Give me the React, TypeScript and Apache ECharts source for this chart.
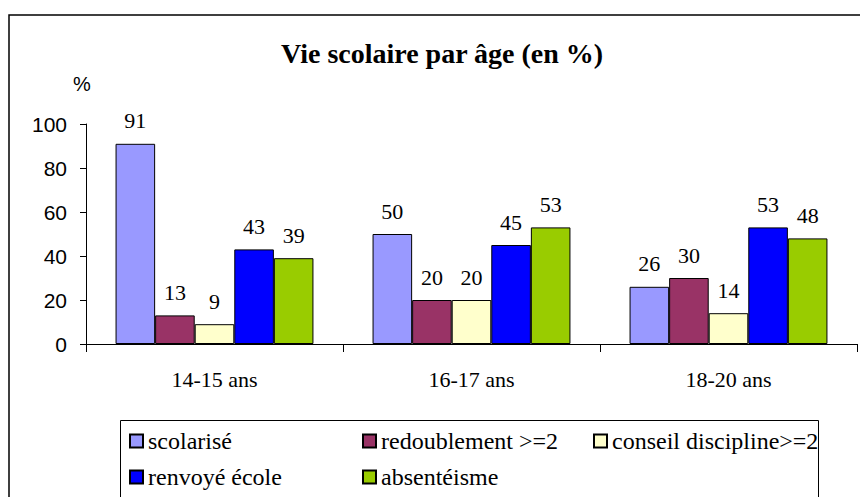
import React, { useEffect, useRef } from "react";
import * as echarts from "echarts";

const categories = ["14-15 ans", "16-17 ans", "18-20 ans"];
const seriesNames = ["scolarisé", "redoublement >=2", "conseil discipline>=2", "renvoyé école", "absentéisme"];
const scolarise = [91, 50, 26];
const redoublement = [13, 20, 30];
const conseil = [9, 20, 14];
const renvoye = [43, 45, 53];
const absenteisme = [39, 53, 48];
const colors = ["#9999FF", "#993366", "#FFFFCC", "#0000FF", "#99CC00"];
const yTicks = [0, 20, 40, 60, 80, 100];

const SERIF = "Times New Roman, Liberation Serif, serif";
const SANS = "Arial, Liberation Sans, sans-serif";

export default function App() {
  const ref = useRef<HTMLDivElement>(null);
  useEffect(() => {
    if (!ref.current) return;
    const chart = echarts.init(ref.current, null, { renderer: "svg" });
    const values = [scolarise, redoublement, conseil, renvoye, absenteisme];
    const legendText = { fontFamily: SERIF, fontSize: 24, color: "#000" };
    const legendBase = { orient: "vertical", top: 429, height: 90, itemWidth: 13, itemHeight: 13, itemGap: 12, textStyle: legendText, icon: "rect", padding: 0 };
    chart.setOption({
      animation: false,
      backgroundColor: "#fff",
      textStyle: { fontFamily: SERIF },
      title: {
        text: "Vie scolaire par âge (en %)",
        left: 276,
        top: 34,
        textStyle: { fontFamily: SERIF, fontSize: 28, fontWeight: "bold", color: "#000" },
      },
      graphic: [
        { type: "rect", shape: { x: 9, y: 15, width: 900, height: 600 }, style: { fill: "none", stroke: "#000", lineWidth: 1.5 }, silent: true, z: -1 },
        { type: "rect", shape: { x: 120.5, y: 420.5, width: 698, height: 120 }, style: { fill: "none", stroke: "#000", lineWidth: 1 }, silent: true, z: -1 },
      ],
      legend: [
        { ...legendBase, data: [seriesNames[0], seriesNames[3]], left: 129 },
        { ...legendBase, data: [seriesNames[1], seriesNames[4]], left: 362 },
        { ...legendBase, data: [seriesNames[2]], left: 593 },
      ],
      grid: { left: 86, right: 3, top: 124, bottom: 153, containLabel: false },
      xAxis: {
        type: "category",
        data: categories,
        axisLine: { lineStyle: { color: "#000", width: 1 } },
        axisTick: { show: true, length: 8, lineStyle: { color: "#000" } },
        axisLabel: { fontFamily: SERIF, fontSize: 22, color: "#000", margin: 24 },
      },
      yAxis: {
        type: "value",
        min: yTicks[0],
        max: yTicks[yTicks.length - 1],
        interval: 20,
        name: "%",
        nameLocation: "end",
        nameGap: 30,
        nameTextStyle: { fontFamily: SANS, fontSize: 20, color: "#000", padding: [0, 8, 0, 0] },
        axisLine: { show: true, lineStyle: { color: "#000", width: 1 } },
        axisTick: { show: true, length: 6, lineStyle: { color: "#000" } },
        axisLabel: { fontFamily: SANS, fontSize: 21, color: "#000", margin: 19 },
        splitLine: { show: false },
      },
      series: seriesNames.map((name, i) => ({
        name,
        type: "bar",
        data: values[i],
        barGap: "0%",
        barCategoryGap: "23%",
        itemStyle: { color: colors[i], borderColor: "#000", borderWidth: 1 },
        label: { show: true, position: "top", distance: 12, fontFamily: SERIF, fontSize: 22, color: "#000" },
      })),
    });
    return () => chart.dispose();
  }, []);
  return <div ref={ref} style={{ position: "fixed", left: 0, top: 0, width: 860, height: 497 }} />;
}
